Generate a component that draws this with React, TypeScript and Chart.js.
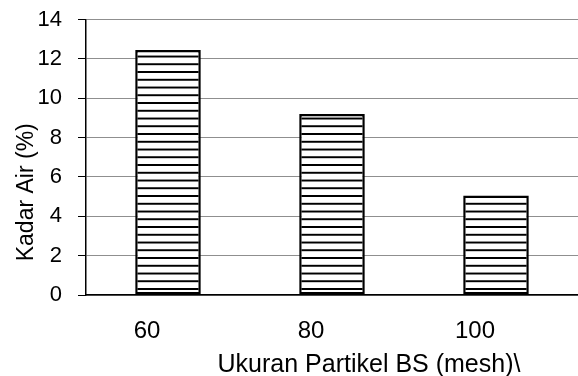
import React, { useEffect, useRef } from "react";
import { Chart, registerables } from "chart.js";

Chart.register(...registerables);

// Particle size categories (mesh) and measured moisture content (%)
const sizes = ["60", "80", "100"];
const moisture = [12.45, 9.2, 5.05];

// Value axis range
const yMin = 0;
const yMax = 14;
const yStep = 2;

const xTitle = "Ukuran Partikel BS (mesh)\\";
const yTitle = "Kadar Air (%)";

const FONT = '"Liberation Sans", Arial, Helvetica, sans-serif';

// Horizontal hatch used to fill the bars
function makeStripes(ctx: CanvasRenderingContext2D): CanvasPattern | string {
  const tile = document.createElement("canvas");
  tile.width = 8;
  tile.height = 8;
  const t = tile.getContext("2d");
  if (!t) return "#fff";
  t.fillStyle = "#fff";
  t.fillRect(0, 0, 8, 8);
  t.fillStyle = "#000";
  t.fillRect(0, 3, 8, 2);
  const p = ctx.createPattern(tile, "repeat");
  if (!p) return "#fff";
  p.setTransform(new DOMMatrix().translate(0, 6.1).scale(1, 7.75 / 8));
  return p;
}

// Axis titles placed relative to the plot area
const axisTitles = {
  id: "axisTitles",
  afterDraw(chart: any) {
    const { ctx, chartArea } = chart;
    const { left, right, top, bottom } = chartArea;
    ctx.save();
    ctx.fillStyle = "#000";
    ctx.textAlign = "center";
    ctx.textBaseline = "alphabetic";
    ctx.font = `25px ${FONT}`;
    ctx.fillText(xTitle, (left + right) / 2 + 37, bottom + 77);
    ctx.font = `23px ${FONT}`;
    ctx.translate(left - 53, (top + bottom) / 2 + 35);
    ctx.rotate(-Math.PI / 2);
    ctx.fillText(yTitle, 0, 0);
    ctx.restore();
  },
};

export default function App() {
  const canvasRef = useRef<HTMLCanvasElement | null>(null);

  useEffect(() => {
    const canvas = canvasRef.current;
    if (!canvas) return;
    const ctx = canvas.getContext("2d");
    if (!ctx) return;
    const fill = makeStripes(ctx);

    const chart = new Chart(canvas, {
      type: "bar",
      data: {
        labels: sizes,
        datasets: [
          {
            data: moisture,
            backgroundColor: fill as any,
            borderColor: "#000",
            borderWidth: 2.5,
            borderSkipped: false,
            categoryPercentage: 1,
            barPercentage: 0.4,
          },
        ],
      },
      options: {
        animation: false,
        responsive: true,
        maintainAspectRatio: false,
        layout: { padding: { top: 19.5, right: 0, bottom: 0, left: 0 } },
        plugins: {
          legend: { display: false },
          tooltip: { enabled: false },
          title: { display: false },
        },
        scales: {
          x: {
            grid: { display: false, drawTicks: false },
            border: { display: true, color: "#000", width: 1.5 },
            ticks: {
              color: "#000",
              font: { family: FONT, size: 24 },
              padding: 22,
              labelOffset: -21,
              maxRotation: 0,
            },
            afterFit(scale: any) {
              scale.height = 81;
              scale.paddingLeft = 0;
              scale.paddingRight = 0;
            },
          },
          y: {
            min: yMin,
            max: yMax,
            ticks: {
              stepSize: yStep,
              color: "#000",
              font: { family: FONT, size: 22 },
              padding: 16,
            },
            grid: {
              color: "#8f8f8f",
              lineWidth: 1,
              tickColor: "#000",
              tickLength: 8,
              drawTicks: true,
            },
            border: { display: true, color: "#000", width: 1.5 },
            afterFit(scale: any) {
              scale.width = 86;
              scale.paddingTop = 0;
              scale.paddingBottom = 0;
            },
          },
        },
      },
      plugins: [axisTitles],
    });

    return () => chart.destroy();
  }, []);

  return (
    <div style={{ position: "fixed", left: 0, top: 0, width: 578, height: 376, background: "#fff" }}>
      <canvas ref={canvasRef} />
    </div>
  );
}
